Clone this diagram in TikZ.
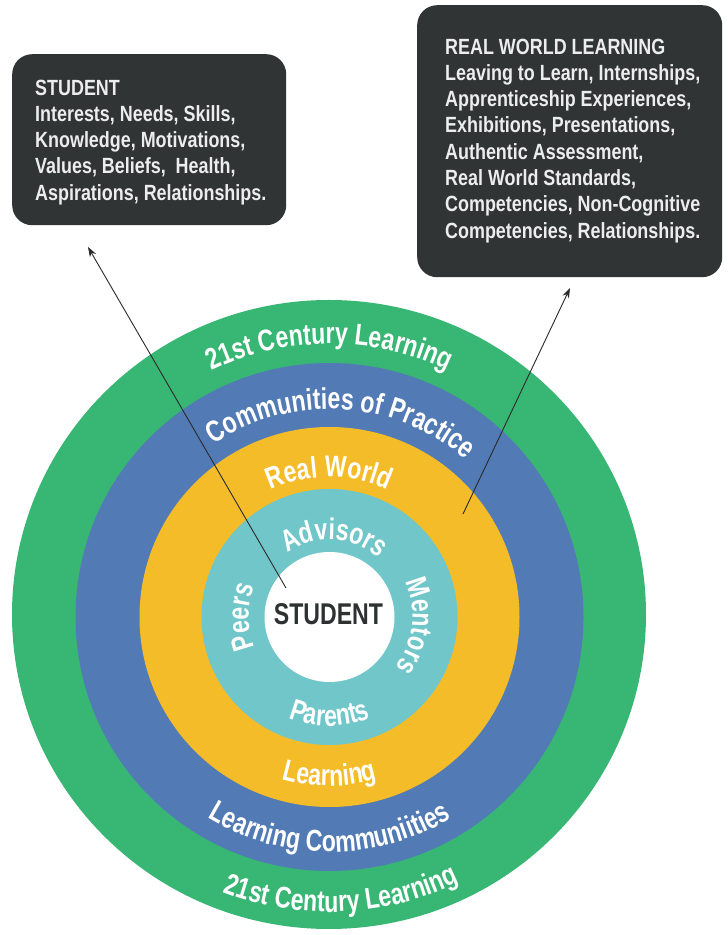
\documentclass[tikz,border=0pt]{standalone}
\usepackage{fontspec}
\newfontfamily\cond[FakeStretch=0.815]{Liberation Sans}
\newfontfamily\ringcond[FakeStretch=0.77]{Liberation Sans}
\usetikzlibrary{decorations.text,arrows.meta,shapes.geometric}
\definecolor{cgreen}{HTML}{38B673}
\definecolor{cblue}{HTML}{527BB5}
\definecolor{cyellow}{HTML}{F5BC29}
\definecolor{cteal}{HTML}{70C6C8}
\definecolor{cbox}{HTML}{303434}
\definecolor{cboxtext}{HTML}{EDEDED}
\definecolor{cdark}{HTML}{2E3131}
\definecolor{cline}{HTML}{2A2A2A}
\newcommand\ringfont{\ringcond\bfseries\fontsize{30}{32}\selectfont}
\newcommand\boxfont{\cond\bfseries\fontsize{22}{26.3}\selectfont}
\tikzset{
  ringdisc/.style={circle, inner sep=0pt, draw=none},
  ringtext/.style={decorate, decoration={text along path, text align=center, text color=white, text={|\ringfont|#1}}},
  infobox/.style={rounded corners=20pt, fill=cbox, inner sep=0pt, anchor=north west},
  infotext/.style={anchor=north west, align=left, inner sep=0pt, text=cboxtext, font=\boxfont},
  pointer/.style={draw=cline, line width=0.9pt, -{Stealth[length=10pt,width=7pt]}}
}
\begin{document}
\begin{tikzpicture}[x=1pt,y=1pt]
\useasboundingbox (0,0) rectangle (728,935);
\fill[white] (0,0) rectangle (728,935);
% rings
\node[ellipse, inner sep=0pt, minimum width=634, minimum height=629, fill=cgreen] (green) at (329,320.5) {};
\node[ringdisc, minimum size=508, fill=cblue] (blue) at (329.5,318) {};
\node[ringdisc, minimum size=380, fill=cyellow] (yellow) at (329.5,318) {};
\node[ringdisc, minimum size=256, fill=cteal] (teal) at (329.5,318) {};
\node[ringdisc, minimum size=130, fill=white] (core) at (329.5,318) {};
\coordinate (c) at (329.5,318);
% ring labels (top, letters outward)
\path[ringtext={21st Century Learning}] (c) ++(180:273) arc[start angle=180, end angle=0, radius=273];
\path[ringtext={Communities of Practice}] (c) ++(176.5:208) arc[start angle=176.5, end angle=-3.5, radius=208];
\path[ringtext={Real World}] (c) ++(180:140) arc[start angle=180, end angle=0, radius=140];
\path[ringtext={Advisors}] (c) ++(176.5:77) arc[start angle=176.5, end angle=-3.5, radius=77];
\path[ringtext={Mentors}] (c) ++(84:83) arc[start angle=84, end angle=-96, radius=83];
\path[ringtext={Peers}] (c) ++(270:81) arc[start angle=270, end angle=90, radius=81];
% ring labels (bottom, letters inward)
\path[ringtext={Parents}] (c) ++(180:109) arc[start angle=180, end angle=360, radius=109];
\path[ringtext={Learning}] (c) ++(180:169) arc[start angle=180, end angle=360, radius=169];
\path[ringtext={Learning Communiities}] (c) ++(180:235) arc[start angle=180, end angle=360, radius=235];
\path[ringtext={21st Century Learning}] (c) ++(182.5:295) arc[start angle=182.5, end angle=362.5, radius=295];
% centre
\node[font=\ringfont, text=cdark, inner sep=0pt] (stu) at (328.5,320.5) {STUDENT};
% info boxes
\node[infobox, minimum width=274, minimum height=171] (sbox) at (12,881) {};
\node[infotext] (stext) at (35,855.5) {STUDENT\\Interests, Needs, Skills,\\Knowledge, Motivations,\\Values, Beliefs,~ Health,\\Aspirations, Relationships.};
\node[infobox, minimum width=305, minimum height=272] (rbox) at (417,930) {};
\node[infotext] (rtext) at (445,896.5) {REAL WORLD LEARNING\\Leaving to Learn, Internships,\\Apprenticeship Experiences,\\Exhibitions, Presentations,\\Authentic Assessment,\\Real World Standards,\\Competencies, Non-Cognitive\\Competencies, Relationships.};
% pointers
\coordinate (sIn) at (286,347);
\coordinate (sTip) at (88,688);
\coordinate (rIn) at (463,421);
\coordinate (rTip) at (570,647);
\draw[pointer] (sIn) -- (sTip);
\draw[pointer] (rIn) -- (rTip);
\end{tikzpicture}
\end{document}
